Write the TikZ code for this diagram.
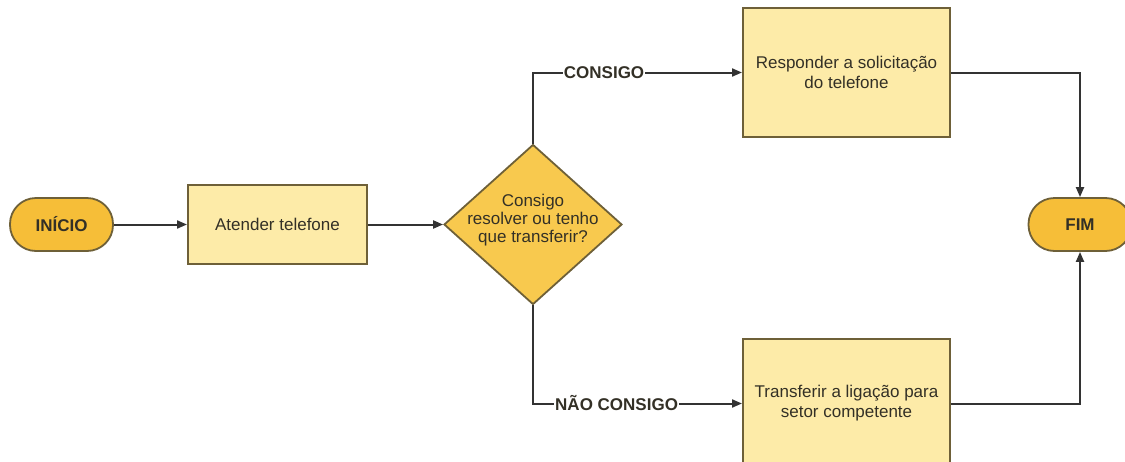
\documentclass[tikz,border=0pt]{standalone}
\usepackage{fontspec}
\setmainfont{Liberation Sans}
\usetikzlibrary{shapes.geometric,arrows.meta}
\definecolor{pillfill}{HTML}{F6BE38}
\definecolor{decfill}{HTML}{F8C94E}
\definecolor{boxfill}{HTML}{FDEBA8}
\definecolor{edgeline}{HTML}{6E6038}
\definecolor{wire}{HTML}{333333}
\definecolor{ink}{HTML}{333026}
\tikzset{
  txt/.style={font=\fontsize{17}{20}\selectfont, text=ink, align=center},
  pill/.style={draw=edgeline, line width=1.8pt, fill=pillfill, rounded corners=26pt,
    minimum width=103pt, minimum height=53pt, inner sep=0pt,
    font=\fontsize{17}{19}\selectfont\bfseries, text=ink},
  procbox/.style={draw=edgeline, line width=2pt, fill=boxfill, inner sep=0pt, txt},
  decision/.style={diamond, draw=edgeline, line width=1.8pt, fill=decfill,
    minimum width=178pt, minimum height=160pt, inner sep=0pt},
  wirearrow/.style={draw=wire, line width=2pt, -{Triangle[length=10pt,width=8pt]}},
  branchlabel/.style={fill=white, inner sep=1pt, text=ink,
    font=\fontsize{17}{19}\selectfont\bfseries}
}
\begin{document}
\begin{tikzpicture}[x=1pt,y=-1pt]
\useasboundingbox (0,0) rectangle (1125,461);

% start / end terminators
\node[pill] (inicio) at (61.5,224.5) {INÍCIO};
\node[pill] (fim) at (1080,224.5) {FIM};

% process steps
\node[procbox, minimum width=179pt, minimum height=79pt] (atender) at (277.5,224.5) {Atender telefone};
\node[procbox, minimum width=207pt, minimum height=129pt] (resp) at (846.5,72.5)
  {Responder a solicitação\\do telefone};
\node[procbox, minimum width=207pt, minimum height=129pt] (transf) at (846.5,403.5)
  {Transferir a ligação para\\setor competente};

% decision
\node[decision] (dec) at (533,224.5) {};
\node[txt, font=\fontsize{17}{18.3}\selectfont] (dectext) at (533,220)
  {Consigo\\resolver ou tenho\\que transferir?};

% connectors
\draw[wirearrow] (inicio) -- (atender);
\draw[wirearrow] (atender) -- (dec);
\draw[wirearrow] (dec.north) |- (resp.west)
  node[branchlabel, pos=0.67] (lblsim) {CONSIGO};
\draw[wirearrow] (dec.south) |- (transf.west)
  node[branchlabel, pos=0.70] (lblnao) {NÃO CONSIGO};
\draw[wirearrow] (resp.east) -| (fim.north);
\draw[wirearrow] (transf.east) -| (fim.south);
\end{tikzpicture}
\end{document}
